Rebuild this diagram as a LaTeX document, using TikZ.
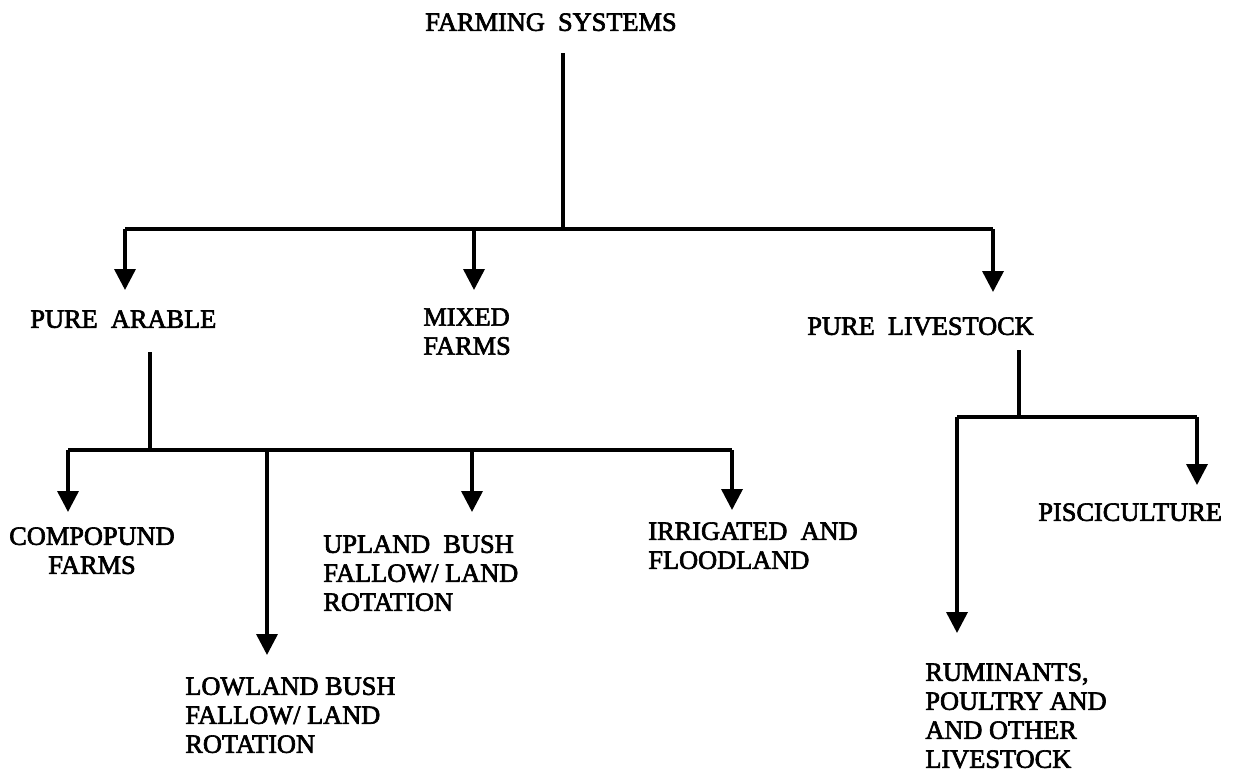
\documentclass[tikz,border=0pt]{standalone}
\usepackage{fontspec}
\setmainfont{Liberation Serif}
\newfontfamily\scanfont{Liberation Serif}[UprightFeatures={FakeBold=2.5}]
\usetikzlibrary{arrows.meta}
\begin{document}
\begin{tikzpicture}[x=0.02cm,y=-0.02cm,
    branch/.style={line width=2pt},
    branchtip/.style={branch,-{Triangle[width=0.42cm,length=0.42cm]}},
    lbl/.style={inner sep=0pt,anchor=north west,align=left,font=\scanfont\fontsize{15}{16.5}\selectfont}]
  \useasboundingbox (0,0) rectangle (1239,774);
  % top level
  \node[lbl,anchor=north] (farming) at (551,13) {FARMING\ \ SYSTEMS};
  \coordinate (fs-top) at (563,53);
  \coordinate (fs-mid) at (563,229);
  \coordinate (fs-left) at (125,229);
  \coordinate (fs-mixed) at (474,229);
  \coordinate (fs-right) at (993,229);
  \draw[branch] (fs-top) -- (fs-mid);
  \draw[branch] (fs-left) -- (fs-right);
  % second level
  \node[lbl] (arable) at (30,310) {PURE\ \ ARABLE};
  \node[lbl] (mixed) at (423,308) {MIXED\\FARMS};
  \node[lbl] (livestock) at (807,317) {PURE\ \ LIVESTOCK};
  \draw[branchtip] (fs-left) -- (125,290) coordinate (ar-tip);
  \draw[branchtip] (fs-mixed) -- (474,290) coordinate (mx-tip);
  \draw[branchtip] (fs-right) -- (993,292) coordinate (ls-tip);
  % pure arable branches
  \coordinate (ar-top) at (150,352);
  \coordinate (ar-mid) at (150,450);
  \coordinate (ar-left) at (68,450);
  \coordinate (ar-low) at (267,450);
  \coordinate (ar-up) at (472,450);
  \coordinate (ar-right) at (732,450);
  \draw[branch] (ar-top) -- (ar-mid);
  \draw[branch] (ar-left) -- (ar-right);
  \node[lbl,anchor=north,align=center] (compound) at (92,527) {COMPOPUND\\FARMS};
  \node[lbl] (lowland) at (185,677) {LOWLAND BUSH\\FALLOW/ LAND\\ROTATION};
  \node[lbl] (upland) at (323,535) {UPLAND\ \ BUSH\\FALLOW/ LAND\\ROTATION};
  \node[lbl] (irrigated) at (648,522) {IRRIGATED\ \ AND\\FLOODLAND};
  \draw[branchtip] (ar-left) -- (68,512);
  \draw[branchtip] (ar-low) -- (267,655);
  \draw[branchtip] (ar-up) -- (472,512);
  \draw[branchtip] (ar-right) -- (732,510);
  % pure livestock branches
  \coordinate (ls-top) at (1019,350);
  \coordinate (ls-mid) at (1019,417);
  \coordinate (ls-left) at (957,417);
  \coordinate (ls-right) at (1197,417);
  \draw[branch] (ls-top) -- (ls-mid);
  \draw[branch] (ls-left) -- (ls-right);
  \node[lbl] (pisci) at (1038,503) {PISCICULTURE};
  \node[lbl] (ruminants) at (925,663) {RUMINANTS,\\POULTRY AND\\AND OTHER\\LIVESTOCK};
  \draw[branchtip] (ls-left) -- (957,633);
  \draw[branchtip] (ls-right) -- (1197,485);
\end{tikzpicture}
\end{document}
